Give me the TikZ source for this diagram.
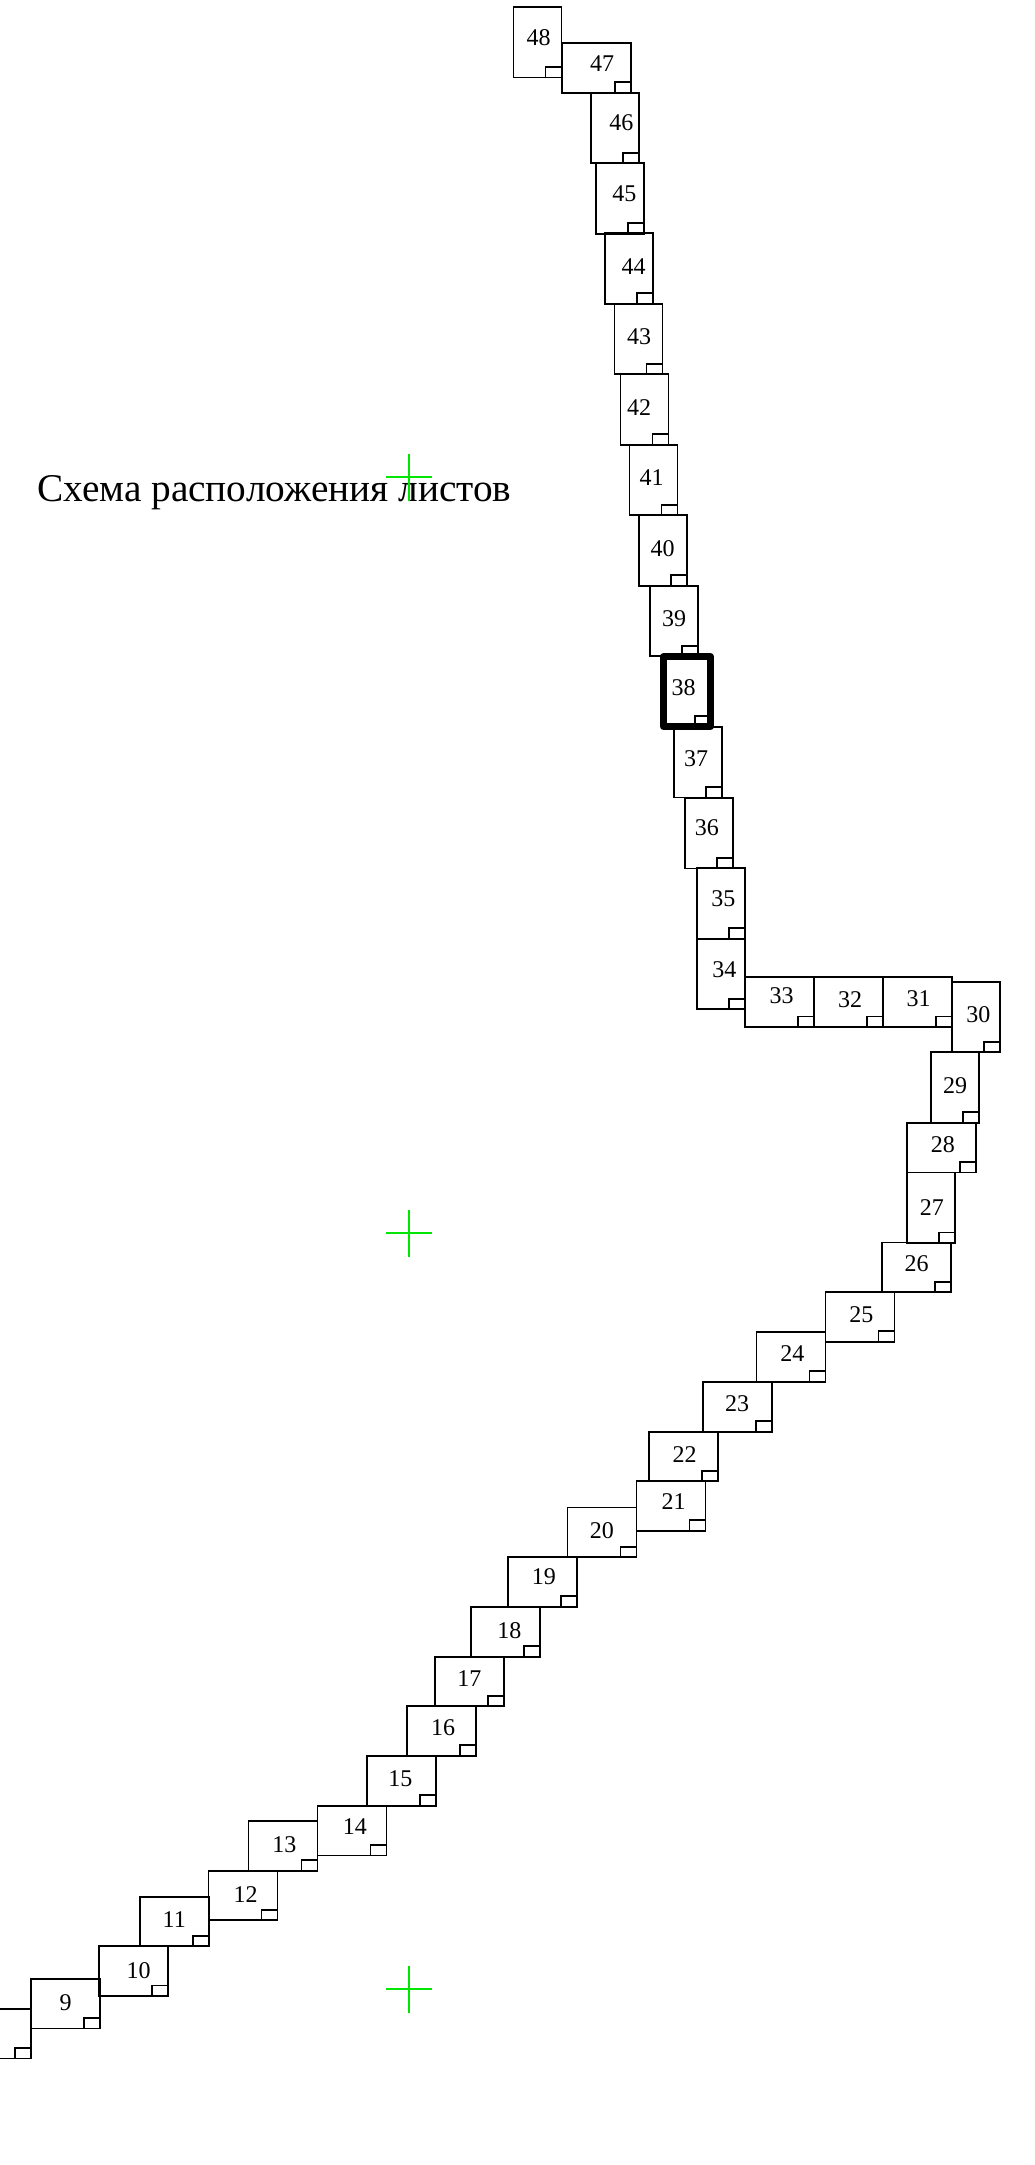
\documentclass[tikz,border=0pt]{standalone}
\usepackage{fontspec}
\setmainfont{Liberation Serif}
\tikzset{
  pagesheet/.style={draw=black, line width=1.8pt, inner sep=0pt, outer sep=0pt, anchor=north west},
  upright/.style={pagesheet, minimum width=48pt, minimum height=70.5pt},
  wide/.style={pagesheet, minimum width=69pt, minimum height=49.7pt},
  sheettab/.style={draw=black, line width=1.8pt, inner sep=0pt, outer sep=0pt, anchor=south east,
    minimum width=16pt, minimum height=10.5pt},
  sheetno/.style={inner sep=0pt, font=\fontsize{24}{24}\selectfont},
  crossarm/.style={draw={rgb,255:red,0;green,230;blue,0}, line width=1.4pt}
}
\begin{document}
\begin{tikzpicture}[x=1pt, y=-1pt]
\useasboundingbox (0,0) rectangle (1034,2165);
\clip (0,0) rectangle (1034,2165);
% upright sheets: number / left, top / number position
\foreach \n/\x/\y/\lx/\ly in {
  48/513.5/7/538.7/37.3,
  46/590.7/92.7/621.3/122.3,
  45/595.7/163.3/624.3/193.7,
  44/605.3/233.3/633.6/266.4,
  43/614.5/303.8/639.2/336.8,
  42/620.5/374.3/639.2/407.2,
  41/629.5/444.8/651.6/477.7,
  40/639/515.3/662.6/548.5,
  39/650.2/585.8/674.2/618.5,
  37/674/727/696/758.5,
  36/684.7/797.9/706.8/827.5,
  35/697/868.3/723.4/898.7,
  34/697.3/938.7/724.3/970,
  30/952/981.7/978.3/1015,
  29/930.7/1052.3/955/1085.7,
  27/907/1172.5/931.8/1208}{
  \node[upright] (sheet\n) at (\x,\y) {};
  \node[sheettab] (tab\n) at (sheet\n.south east) {};
  \node[sheetno] (no\n) at (\lx,\ly) {\n};
}
% wide sheets
\foreach \n/\x/\y/\lx/\ly in {
  47/561.7/43/602/64,
  33/745.3/977.3/781.7/995.8,
  32/814/977.3/850/999.5,
  31/882.7/977.3/918.7/999,
  28/907/1122.8/942.9/1144.8,
  26/882/1242.5/916.7/1263.7,
  25/825.5/1292/861.4/1314.2,
  24/756.5/1332/792.4/1353.4,
  23/702.7/1382/737.2/1404,
  22/648.8/1431.6/684.7/1454.2,
  21/636.4/1481/673.7/1501.2,
  20/567.4/1507.5/601.9/1530.2,
  19/508/1557/543.9/1577,
  18/470.7/1607/509.4/1630.4,
  17/434.9/1656.6/469.4/1678.7,
  16/407/1706/443.1/1727.6,
  15/367/1756/400.3/1778.6,
  14/317.5/1805.7/354.8/1826.4,
  13/248.5/1821/284.4/1844.3,
  12/208.5/1870.6/245.7/1894.6,
  11/140/1896.6/174.3/1919.3,
  10/99.3/1946.3/138.7/1971,
  9/30.7/1978.7/65.7/2002.2,
  8/-38.3/2008.7/-5/2033}{
  \node[wide] (sheet\n) at (\x,\y) {};
  \node[sheettab] (tab\n) at (sheet\n.south east) {};
  \node[sheetno] (no\n) at (\lx,\ly) {\n};
}
% current sheet, heavy outline
\node[upright, line width=6.5pt, line join=round, minimum width=47.4pt, minimum height=70pt] (sheet38) at (663.3,656.7) {};
\node[sheettab] (tab38) at (sheet38.south east) {};
\node[sheetno] (no38) at (683.7,687.7) {38};
% title
\node[anchor=base west, inner sep=0pt, font=\fontsize{39.3}{39.3}\selectfont] (title) at (37,501) {Схема расположения листов};
% grid crosses
\foreach \i/\cy in {1/477,2/1233,3/1989} {
  \coordinate (crossl\i) at (385.7,\cy);
  \coordinate (crossr\i) at (432.3,\cy);
  \coordinate (crosst\i) at (409,\cy-23.5);
  \coordinate (crossb\i) at (409,\cy+23.5);
  \draw[crossarm] (crossl\i) -- (crossr\i);
  \draw[crossarm] (crosst\i) -- (crossb\i);
}
\end{tikzpicture}
\end{document}
